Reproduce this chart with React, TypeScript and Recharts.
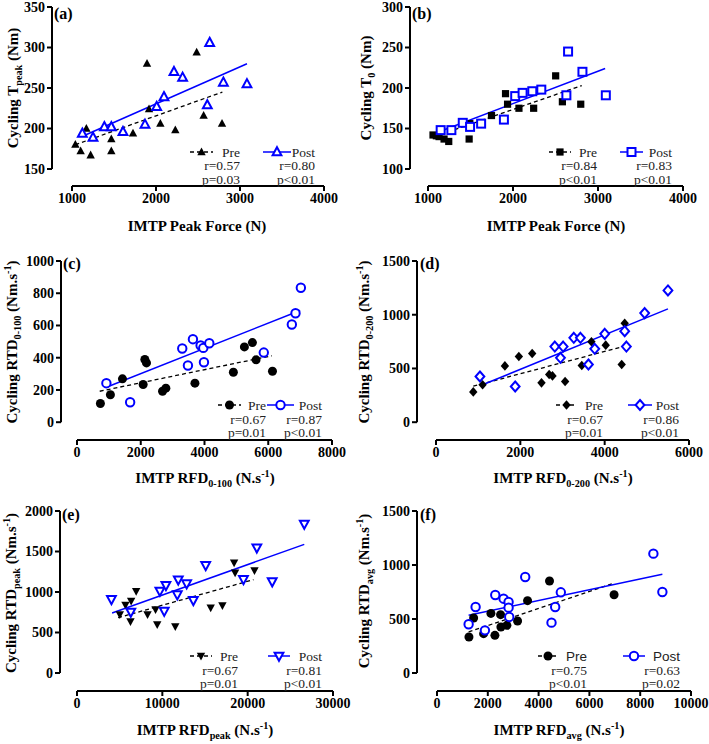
import React from "react";
import { ScatterChart, Scatter, XAxis, YAxis, ReferenceLine } from "recharts";

const SERIF = '"Liberation Serif", "Times New Roman", serif';
const SANS = '"Liberation Sans", Arial, sans-serif';
const BLUE = "#0000ff";

type Pt = [number, number];

// (a) IMTP peak force vs cycling T peak
const aXTicks = [1000, 2000, 3000, 4000];
const aYTicks = [150, 200, 250, 300, 350];
const aPre: Pt[] = [[1040, 180], [1103, 172], [1171, 200], [1222, 167], [1468, 187], [1468, 172], [1726, 194], [1893, 280], [1917, 224], [2052, 206], [2230, 198], [2484, 294], [2567, 216], [2786, 206]];
const aPost: Pt[] = [[1123, 194], [1250, 189], [1385, 202], [1468, 202], [1607, 196], [1869, 205], [2008, 227], [2095, 239], [2214, 270], [2317, 263], [2611, 229], [2639, 306], [2802, 257], [3083, 255]];
const aPreFit: Pt[] = [[1040, 180], [2790, 245]];
const aPostFit: Pt[] = [[1139, 191], [3083, 280]];
const aPreStats = ["r=0.57", "p=0.03"];
const aPostStats = ["r=0.80", "p<0.01"];

// (b) IMTP peak force vs cycling T0
const bXTicks = [1000, 2000, 3000, 4000];
const bYTicks = [100, 150, 200, 250, 300];
const bPre: Pt[] = [[1059, 142], [1098, 141], [1130, 140], [1189, 137], [1244, 134], [1484, 137], [1492, 156], [1747, 166], [1912, 193], [1936, 180], [2070, 175], [2243, 175], [2502, 215], [2581, 183], [2797, 180]];
const bPost: Pt[] = [[1149, 148], [1275, 148], [1409, 157], [1495, 152], [1625, 156], [1893, 161], [2026, 190], [2113, 194], [2227, 196], [2333, 198], [2628, 191], [2648, 245], [2817, 220], [3092, 191]];
const bPreFit: Pt[] = [[1079, 140], [2809, 203]];
const bPostFit: Pt[] = [[1130, 146], [3084, 224]];
const bPreStats = ["r=0.84", "p<0.01"];
const bPostStats = ["r=0.83", "p<0.01"];

// (c) RFD 0-100 vs RTD 0-100
const cXTicks = [0, 2000, 4000, 6000, 8000];
const cYTicks = [0, 200, 400, 600, 800, 1000];
const cPre: Pt[] = [[734, 116], [1048, 170], [1426, 269], [2075, 234], [2128, 389], [2180, 368], [2683, 192], [2788, 211], [3700, 242], [4906, 310], [5252, 467], [5503, 494], [5618, 387], [6132, 316]];
const cPost: Pt[] = [[922, 242], [1667, 124], [3302, 457], [3480, 352], [3637, 515], [3878, 476], [3962, 461], [3983, 372], [4151, 490], [5860, 432], [6740, 606], [6855, 676], [7023, 834]];
const cPreFit: Pt[] = [[713, 192], [6111, 412]];
const cPostFit: Pt[] = [[922, 217], [7002, 693]];
const cPreStats = ["r=0.67", "p=0.01"];
const cPostStats = ["r=0.87", "p<0.01"];

// (d) RFD 0-200 vs RTD 0-200
const dXTicks = [0, 2000, 4000, 6000];
const dYTicks = [0, 500, 1000, 1500];
const dPre: Pt[] = [[884, 282], [1105, 348], [1634, 524], [1965, 611], [2281, 639], [2502, 366], [2684, 444], [2762, 431], [3062, 379], [3457, 527], [3686, 748], [4025, 717], [4404, 537], [4475, 921]];
const dPost: Pt[] = [[1042, 425], [1878, 332], [2818, 704], [2952, 599], [3015, 704], [3268, 785], [3425, 785], [3615, 537], [3765, 683], [4002, 822], [4475, 847], [4515, 704], [4949, 1015], [5501, 1226]];
const dPreFit: Pt[] = [[884, 335], [4436, 704]];
const dPostFit: Pt[] = [[1105, 348], [5501, 1055]];
const dPreStats = ["r=0.67", "p=0.01"];
const dPostStats = ["r=0.86", "p<0.01"];

// (e) RFD peak vs RTD peak
const eXTicks = [0, 10000, 20000, 30000];
const eYTicks = [0, 500, 1000, 1500, 2000];
const ePre: Pt[] = [[5014, 724], [5680, 840], [6267, 638], [6345, 889], [6933, 1012], [8265, 724], [9205, 786], [9401, 601], [11516, 576], [15668, 807], [17039, 835], [18410, 1362], [18527, 1239], [20799, 1267]];
const ePost: Pt[] = [[4034, 909], [6306, 753], [9714, 1012], [10223, 765], [10419, 1082], [11751, 967], [11868, 1152], [12848, 1103], [13631, 897], [15080, 1329], [19506, 1156], [21073, 1547], [22875, 1128], [26635, 1840]];
const ePreFit: Pt[] = [[4818, 683], [20681, 1152]];
const ePostFit: Pt[] = [[4113, 741], [26635, 1588]];
const ePreStats = ["r=0.67", "p=0.01"];
const ePostStats = ["r=0.81", "p<0.01"];

// (f) RFD avg vs RTD avg
const fXTicks = [0, 2000, 4000, 6000, 8000, 10000];
const fYTicks = [0, 500, 1000, 1500];
const fPre: Pt[] = [[1258, 333], [1442, 509], [1835, 364], [2123, 552], [2280, 349], [2503, 540], [2516, 426], [2752, 441], [3172, 481], [3565, 670], [4430, 852], [6972, 725]];
const fPost: Pt[] = [[1245, 451], [1520, 611], [1887, 395], [2294, 722], [2621, 688], [2818, 657], [2818, 605], [2844, 519], [3473, 889], [4508, 466], [4653, 611], [4875, 747], [8519, 1105], [8873, 750]];
const fPreFit: Pt[] = [[1245, 380], [6907, 827]];
const fPostFit: Pt[] = [[1245, 534], [8873, 914]];
const fPreStats = ["r=0.75", "p<0.01"];
const fPostStats = ["r=0.63", "p=0.02"];

const toObj = (arr: Pt[]) => arr.map(([x, y]) => ({ x, y }));

type Kind = "tri" | "square" | "circle" | "diamond" | "tridown";

function Marker({ kind, filled, cx, cy }: { kind: Kind; filled: boolean; cx: number; cy: number }) {
  const fill = filled ? "#000" : "#fff";
  const stroke = filled ? "none" : BLUE;
  const sw = filled ? 0 : 2;
  const s = filled ? 4.2 : 4.4;
  if (kind === "circle") return <circle cx={cx} cy={cy} r={filled ? 4.5 : 4.2} fill={fill} stroke={stroke} strokeWidth={sw} />;
  if (kind === "square") {
    const h = filled ? 3.6 : 4;
    return <rect x={cx - h} y={cy - h} width={h * 2} height={h * 2} fill={fill} stroke={stroke} strokeWidth={sw} />;
  }
  if (kind === "diamond") {
    return <path d={`M${cx},${cy - s - 0.6}L${cx + s},${cy}L${cx},${cy + s + 0.6}L${cx - s},${cy}Z`} fill={fill} stroke={stroke} strokeWidth={sw} />;
  }
  const dir = kind === "tri" ? 1 : -1;
  return (
    <path
      d={`M${cx},${cy - dir * s * 1.1}L${cx + s},${cy + dir * s * 0.75}L${cx - s},${cy + dir * s * 0.75}Z`}
      fill={fill}
      stroke={stroke}
      strokeWidth={sw}
      strokeLinejoin="miter"
    />
  );
}

const tickStyle = { fontSize: 14, fontWeight: 700, fill: "#000", fontFamily: SERIF };

function Panel(cfg: any) {
  const { axisX, xMinPx, xMaxPx, yMaxPx, yMinPx, axisY, xTicks, yTicks, kind } = cfg;
  const xMin = xTicks[0];
  const xMax = xTicks[xTicks.length - 1];
  const yMin = yTicks[0];
  const yMax = yTicks[yTicks.length - 1];
  const xLo = xMin - ((xMinPx - axisX) * (xMax - xMin)) / (xMaxPx - xMinPx);
  const yLo = yMin - ((axisY - yMinPx) * (yMax - yMin)) / (yMinPx - yMaxPx);
  const YW = 52;
  const XH = 26;
  const MT = 10;
  const MR = 26;
  const left = axisX - YW;
  const top = yMaxPx - MT;
  const width = xMaxPx + MR - left;
  const height = axisY + XH - top;
  const seg = (p: Pt[]) => p.map(([x, y]) => ({ x, y }));
  return (
    <div style={{ position: "absolute", left, top }}>
      <ScatterChart width={width} height={height} margin={{ top: MT, right: MR, bottom: 0, left: 0 }}>
        <XAxis
          type="number"
          dataKey="x"
          domain={[xLo, xMax]}
          ticks={xTicks}
          interval={0}
          allowDataOverflow
          axisLine={false}
          tickLine={{ stroke: "#000", strokeWidth: 2 }}
          tickSize={5}
          tickMargin={2}
          tick={tickStyle}
          height={XH}
        />
        <YAxis
          type="number"
          dataKey="y"
          domain={[yLo, yMax]}
          ticks={yTicks}
          interval={0}
          allowDataOverflow
          axisLine={false}
          tickLine={{ stroke: "#000", strokeWidth: 2 }}
          tickSize={5}
          tickMargin={2}
          tick={tickStyle}
          width={YW}
        />
        <ReferenceLine ifOverflow="visible" segment={[{ x: xMin, y: yLo }, { x: xMax, y: yLo }]} stroke="#000" strokeWidth={2} />
        <ReferenceLine ifOverflow="visible" segment={[{ x: xLo, y: yMin }, { x: xLo, y: yMax }]} stroke="#000" strokeWidth={2} />
        <ReferenceLine ifOverflow="visible" segment={seg(cfg.preFit)} stroke="#000" strokeWidth={1.3} strokeDasharray="4 3" />
        <ReferenceLine ifOverflow="visible" segment={seg(cfg.postFit)} stroke={BLUE} strokeWidth={1.5} />
        <Scatter
          data={toObj(cfg.pre)}
          isAnimationActive={false}
          shape={(p: any) => <Marker kind={kind} filled cx={p.cx} cy={p.cy} />}
        />
        <Scatter
          data={toObj(cfg.post)}
          isAnimationActive={false}
          shape={(p: any) => <Marker kind={kind} filled={false} cx={p.cx} cy={p.cy} />}
        />
      </ScatterChart>
    </div>
  );
}

function LegendEntry({ x1, x2, right, rows, kind, filled, label, stats, sans }: any) {
  const w = x2 - x1;
  return (
    <>
      <svg style={{ position: "absolute", left: x1, top: rows[0] - 8 }} width={w} height={16}>
        <line
          x1={0}
          x2={w}
          y1={8}
          y2={8}
          stroke={filled ? "#000" : BLUE}
          strokeWidth={filled ? 1.3 : 1.5}
          strokeDasharray={filled ? "4 3" : undefined}
        />
        <Marker kind={kind} filled={filled} cx={w / 2} cy={8} />
      </svg>
      {[label, ...stats].map((t: string, i: number) => (
        <div
          key={i}
          style={{
            position: "absolute",
            left: right,
            top: rows[i],
            transform: "translate(-100%, -50%)",
            fontSize: 13.5,
            lineHeight: "11px",
            whiteSpace: "nowrap",
            color: "#222",
            fontFamily: i === 0 && sans ? SANS : SERIF,
          }}
        >
          {t}
        </div>
      ))}
    </>
  );
}

const panels = [
  {
    id: "(a)", axisX: 52, xMinPx: 72, xMaxPx: 324, yMaxPx: 7, yMinPx: 169, axisY: 186,
    xTicks: aXTicks, yTicks: aYTicks, pre: aPre, post: aPost, preFit: aPreFit, postFit: aPostFit, kind: "tri",
    preStats: aPreStats, postStats: aPostStats,
    label: [54, 14], yTitle: [13, 88], xTitle: [197, 226],
    rows: [151.5, 165, 178.5], preSym: [190, 213], preRight: 240, postSym: [263, 291], postRight: 315,
    yText: <>Cycling T<sub>peak</sub> (Nm)</>, xText: <>IMTP Peak Force (N)</>,
  },
  {
    id: "(b)", axisX: 410, xMinPx: 428, xMaxPx: 683, yMaxPx: 7, yMinPx: 169, axisY: 186,
    xTicks: bXTicks, yTicks: bYTicks, pre: bPre, post: bPost, preFit: bPreFit, postFit: bPostFit, kind: "square",
    preStats: bPreStats, postStats: bPostStats,
    label: [412, 14], yTitle: [366, 88], xTitle: [556, 226],
    rows: [151.5, 165, 178.5], preSym: [549, 571], preRight: 597, postSym: [620, 643], postRight: 672,
    yText: <>Cycling T<sub>0</sub> (Nm)</>, xText: <>IMTP Peak Force (N)</>,
  },
  {
    id: "(c)", axisX: 61, xMinPx: 77, xMaxPx: 332, yMaxPx: 260.5, yMinPx: 421.7, axisY: 439.5,
    xTicks: cXTicks, yTicks: cYTicks, pre: cPre, post: cPost, preFit: cPreFit, postFit: cPostFit, kind: "circle",
    preStats: cPreStats, postStats: cPostStats,
    label: [63, 264], yTitle: [12, 342], xTitle: [205, 478],
    rows: [405, 418.5, 432], preSym: [218, 241], preRight: 266, postSym: [267, 294], postRight: 322,
    yText: <>Cycling RTD<sub>0-100</sub> (Nm.s<sup>-1</sup>)</>, xText: <>IMTP RFD<sub>0-100</sub> (N.s<sup>-1</sup>)</>,
  },
  {
    id: "(d)", axisX: 417, xMinPx: 436, xMaxPx: 689, yMaxPx: 260.5, yMinPx: 421.7, axisY: 439.5,
    xTicks: dXTicks, yTicks: dYTicks, pre: dPre, post: dPost, preFit: dPreFit, postFit: dPostFit, kind: "diamond",
    preStats: dPreStats, postStats: dPostStats,
    label: [420, 264], yTitle: [364, 342], xTitle: [563, 478],
    rows: [405, 418.5, 432], preSym: [556, 577], preRight: 603, postSym: [628, 652], postRight: 679,
    yText: <>Cycling RTD<sub>0-200</sub> (Nm.s<sup>-1</sup>)</>, xText: <>IMTP RFD<sub>0-200</sub> (N.s<sup>-1</sup>)</>,
  },
  {
    id: "(e)", axisX: 60, xMinPx: 77, xMaxPx: 333, yMaxPx: 511, yMinPx: 673, axisY: 691,
    xTicks: eXTicks, yTicks: eYTicks, pre: ePre, post: ePost, preFit: ePreFit, postFit: ePostFit, kind: "tridown",
    preStats: ePreStats, postStats: ePostStats,
    label: [62, 515], yTitle: [11, 593], xTitle: [205, 730],
    rows: [656, 669.5, 683], preSym: [190, 212], preRight: 238, postSym: [268, 290], postRight: 322,
    yText: <>Cycling RTD<sub>peak</sub> (Nm.s<sup>-1</sup>)</>, xText: <>IMTP RFD<sub>peak</sub> (N.s<sup>-1</sup>)</>,
  },
  {
    id: "(f)", axisX: 417, xMinPx: 437, xMaxPx: 691, yMaxPx: 511, yMinPx: 673, axisY: 691,
    xTicks: fXTicks, yTicks: fYTicks, pre: fPre, post: fPost, preFit: fPreFit, postFit: fPostFit, kind: "circle",
    preStats: fPreStats, postStats: fPostStats, sans: true,
    label: [420, 515], yTitle: [364, 591], xTitle: [559, 730],
    rows: [656, 669.5, 683], preSym: [538, 558], preRight: 587, postSym: [623, 645], postRight: 680,
    yText: <>Cycling RTD<sub>avg</sub> (Nm.s<sup>-1</sup>)</>, xText: <>IMTP RFD<sub>avg</sub> (N.s<sup>-1</sup>)</>,
  },
];

const titleStyle: React.CSSProperties = {
  position: "absolute",
  fontSize: 15,
  fontWeight: 700,
  fontFamily: SERIF,
  whiteSpace: "nowrap",
  lineHeight: "16px",
  color: "#000",
};

export default function App() {
  return (
    <div
      style={{
        position: "absolute",
        left: 0,
        top: 0,
        width: 709,
        height: 744,
        background: "#fff",
        fontFamily: SERIF,
        overflow: "hidden",
      }}
    >
      <style>{`sub,sup{font-size:0.68em;line-height:0}`}</style>
      {panels.map((p) => (
        <React.Fragment key={p.id}>
          <Panel {...p} />
          <div style={{ ...titleStyle, fontSize: 16, left: p.label[0], top: p.label[1], transform: "translateY(-50%)" }}>
            {p.id}
          </div>
          <div
            style={{
              ...titleStyle,
              left: p.yTitle[0],
              top: p.yTitle[1],
              transform: "translate(-50%, -50%) rotate(-90deg)",
            }}
          >
            {p.yText}
          </div>
          <div style={{ ...titleStyle, left: p.xTitle[0], top: p.xTitle[1], transform: "translate(-50%, -50%)" }}>
            {p.xText}
          </div>
          <LegendEntry
            x1={p.preSym[0]}
            x2={p.preSym[1]}
            right={p.preRight}
            rows={p.rows}
            kind={p.kind}
            filled
            label="Pre"
            stats={p.preStats}
            sans={p.sans}
          />
          <LegendEntry
            x1={p.postSym[0]}
            x2={p.postSym[1]}
            right={p.postRight}
            rows={p.rows}
            kind={p.kind}
            filled={false}
            label="Post"
            stats={p.postStats}
            sans={p.sans}
          />
        </React.Fragment>
      ))}
    </div>
  );
}
